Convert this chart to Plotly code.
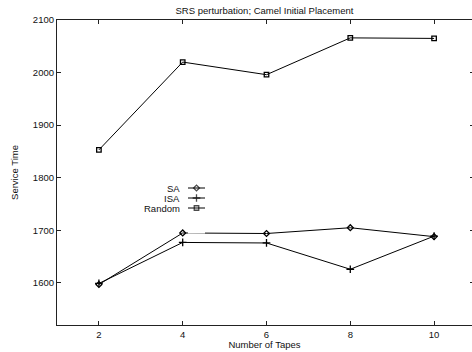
import plotly.graph_objects as go

tapes = [2, 4, 6, 8, 10]
sa = [1597, 1695, 1694, 1705, 1688]
isa = [1599, 1677, 1676, 1626, 1689]
rnd = [1853, 2020, 1996, 2066, 2065]
names = ["SA", "ISA", "Random"]
symbols = ["diamond-open", "cross-thin", "square-open"]
msizes = [4.5, 5.5, 4.5]
series = [sa, isa, rnd]
yaxes = ["y", "y", "y2"]

W, H = 472, 352
L, R, T, B = 57, 0, 20, 27
pw, ph = W - L - R, H - T - B
FONT = "Liberation Sans, Arial, sans-serif"
TXT = "#111"

fig = go.Figure()
for name, sym, ms, ys, ya in zip(names, symbols, msizes, series, yaxes):
    fig.add_trace(go.Scatter(
        x=tapes, y=ys, mode="lines+markers", name=name, showlegend=False, yaxis=ya,
        line=dict(color="black", width=1),
        marker=dict(symbol=sym, size=ms, color="black",
                    line=dict(color="black", width=1.3)),
    ))

# custom legend: text on left, sample on right
leg_rows_px = [188, 198, 208]
text_right_px = 182
samp_x0_px, samp_x1_px = 188, 205
ydom = (0.30, 0.55)
for name, sym, ms, py in zip(names, symbols, msizes, leg_rows_px):
    yp = (H - B - py) / ph
    fig.add_annotation(x=(text_right_px - L) / pw, y=yp, xref="paper", yref="paper",
                       text=name, showarrow=False, xanchor="right", yanchor="middle",
                       font=dict(size=9.5, color=TXT, family=FONT))
    yv = (yp - ydom[0]) / (ydom[1] - ydom[0])
    fig.add_trace(go.Scatter(
        x=[0, 0.5, 1], y=[yv, yv, yv], mode="lines+markers", xaxis="x2", yaxis="y3",
        showlegend=False, hoverinfo="skip",
        line=dict(color="black", width=1),
        marker=dict(symbol=sym, size=[0, ms, 0], color="black",
                    line=dict(color="black", width=1.3)),
    ))

axis_common = dict(showgrid=False, zeroline=False, ticks="inside", ticklen=4,
                   tickcolor="#222", showline=True, linecolor="#222", linewidth=1.2,
                   tickfont=dict(size=9.5, color=TXT, family=FONT))

xr1 = 11 - 4 / 42.0
yticks = [1600, 1700, 1800, 1900, 2000, 2100]
fig.update_layout(
    width=W, height=H,
    margin=dict(l=L, r=R, t=T, b=B, autoexpand=False),
    paper_bgcolor="white", plot_bgcolor="white",
    font=dict(family=FONT, size=9.5, color=TXT),
    title=dict(text="SRS perturbation; Camel Initial Placement", x=(L + pw / 2) / W,
               xanchor="center", y=1 - 11 / H, yanchor="middle",
               font=dict(size=9.5, color=TXT, family=FONT)),
    xaxis=dict(**axis_common, range=[1, xr1], tickvals=tapes, mirror="ticks",
               title=dict(text="Number of Tapes", standoff=2,
                          font=dict(size=9.5, color=TXT, family=FONT)),
               automargin=False),
    yaxis=dict(**axis_common, range=[1520, 2100], tickvals=yticks,
               title=dict(text="Service Time", standoff=12,
                          font=dict(size=9.5, color=TXT, family=FONT)),
               automargin=False),
    yaxis2=dict(overlaying="y", side="right", range=[1520, 2100],
                tickvals=yticks, ticks="inside", ticklen=2,
                tickcolor="#222", showticklabels=False, showline=False, showgrid=False,
                zeroline=False),
    xaxis2=dict(domain=[(samp_x0_px - L) / pw, (samp_x1_px - L) / pw], range=[0, 1],
                visible=False, anchor="y3"),
    yaxis3=dict(domain=list(ydom), range=[0, 1], visible=False, anchor="x2"),
)

fig.write_html("out.html")
